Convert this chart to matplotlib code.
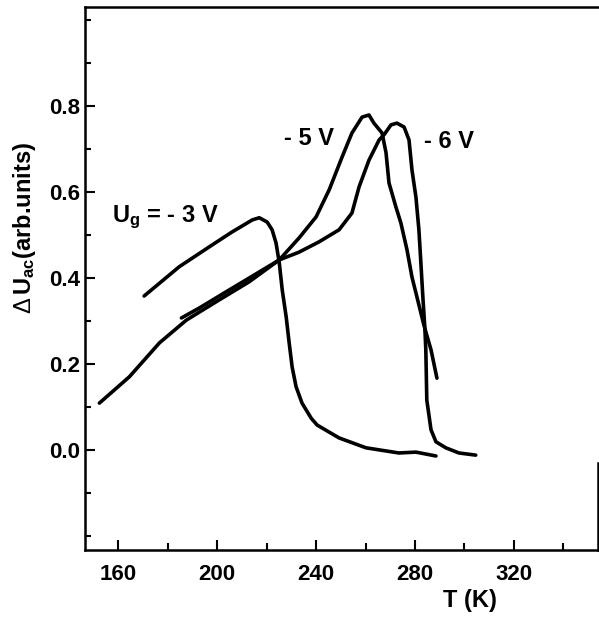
import matplotlib
matplotlib.use("Agg")
import matplotlib.pyplot as plt
from matplotlib.ticker import FixedLocator

# Fonts: Arial-like bold, mathtext in the same family
plt.rcParams['font.family'] = ['Liberation Sans', 'DejaVu Sans']
plt.rcParams['font.weight'] = 'bold'
plt.rcParams['mathtext.fontset'] = 'custom'
plt.rcParams['mathtext.rm'] = 'Liberation Sans:weight=normal'
plt.rcParams['mathtext.bf'] = 'Liberation Sans:bold'
plt.rcParams['mathtext.it'] = 'Liberation Sans:italic'

# Ug = -3 V
t_3v = [170.4, 184.6, 198.0, 206.0, 214.2, 217.0, 220.2, 222.2, 223.8, 225.1, 226.3,
        227.9, 229.1, 230.3, 231.9, 234.3, 238.0, 240.4, 249.3, 260.2, 273.5, 280.4, 288.5]
u_3v = [0.358, 0.426, 0.477, 0.507, 0.535, 0.540, 0.530, 0.512, 0.481, 0.435, 0.372,
        0.309, 0.249, 0.193, 0.147, 0.109, 0.074, 0.058, 0.028, 0.005, -0.007, -0.005, -0.014]

# Ug = -5 V
t_5v = [152.3, 164.4, 176.6, 187.5, 200.8, 212.9, 225.1, 233.1, 240.0, 245.3, 250.5,
        254.5, 258.6, 261.4, 263.4, 266.7, 268.3, 269.5, 272.3, 274.3, 276.8, 278.8,
        280.8, 283.6, 286.5, 288.9]
u_5v = [0.109, 0.170, 0.249, 0.302, 0.349, 0.391, 0.442, 0.493, 0.542, 0.605, 0.681,
        0.737, 0.774, 0.779, 0.760, 0.737, 0.691, 0.621, 0.565, 0.528, 0.465, 0.402,
        0.356, 0.291, 0.233, 0.167]

# Ug = -6 V
t_6v = [185.5, 192.7, 204.8, 215.0, 225.1, 233.1, 241.2, 249.3, 254.5, 257.4, 261.4,
        265.5, 267.5, 270.3, 272.7, 275.6, 277.6, 278.8, 280.4, 281.6, 282.4, 283.2,
        284.0, 284.4, 284.8, 286.5, 288.5, 292.5, 297.8, 304.6]
u_6v = [0.307, 0.330, 0.372, 0.407, 0.442, 0.460, 0.484, 0.512, 0.551, 0.612, 0.674,
        0.721, 0.733, 0.756, 0.760, 0.751, 0.721, 0.651, 0.588, 0.512, 0.435, 0.356,
        0.284, 0.233, 0.116, 0.047, 0.019, 0.005, -0.007, -0.012]

x_major = [160, 200, 240, 280, 320]
x_minor = [180, 220, 260, 300, 340]
y_major = [0.0, 0.2, 0.4, 0.6, 0.8]
y_minor = [-0.2, -0.1, 0.1, 0.3, 0.5, 0.7, 0.9, 1.0]

fig = plt.figure(figsize=(5.99, 6.17), dpi=100)
ax = fig.add_axes([0.142, 0.1086, 0.856, 0.880])

line_kw = dict(color='black', lw=2.6, solid_capstyle='round', solid_joinstyle='round')
ax.plot(t_3v, u_3v, **line_kw)
ax.plot(t_5v, u_5v, **line_kw)
ax.plot(t_6v, u_6v, **line_kw)

ax.set_xlim(146.5, 354)
ax.set_ylim(-0.2326, 1.03)

ax.xaxis.set_major_locator(FixedLocator(x_major))
ax.xaxis.set_minor_locator(FixedLocator(x_minor))
ax.yaxis.set_major_locator(FixedLocator(y_major))
ax.yaxis.set_minor_locator(FixedLocator(y_minor))
ax.set_xticklabels([str(v) for v in x_major])
ax.set_yticklabels([f"{v:.1f}" for v in y_major])

ax.tick_params(which='both', direction='in', width=1.5, labelsize=16)
ax.tick_params(axis='x', which='major', length=7.5, pad=10)
ax.tick_params(axis='x', which='minor', length=5)
ax.tick_params(axis='y', which='major', length=7, pad=3.5)
ax.tick_params(axis='y', which='minor', length=4.5)

for side in ['left', 'bottom', 'top', 'right']:
    ax.spines[side].set_linewidth(1.8)
# the scanned frame only shows the bottom part of the right edge
ax.spines['right'].set_bounds(-0.2326, -0.03)

# curve labels
ax.text(157.5, 0.530, r'$\mathbf{U_g}$' + ' = - 3 V', fontsize=17, fontweight='bold',
        ha='left', va='baseline')
ax.text(227.1, 0.709, '- 5 V', fontsize=17, fontweight='bold', ha='left', va='baseline')
ax.text(283.8, 0.702, '- 6 V', fontsize=17, fontweight='bold', ha='left', va='baseline')

# axis labels
fig.text(25 / 599, 1 - 228 / 617, r'$\mathrm{\Delta}\,\mathbf{U_{ac}}$' + '(arb.units)',
         rotation=90, fontsize=17, fontweight='bold', ha='center', va='center')
fig.text(470 / 599, 1 - 601 / 617, 'T (K)', fontsize=17, fontweight='bold',
         ha='center', va='center')

plt.savefig('out.png', dpi=100)
